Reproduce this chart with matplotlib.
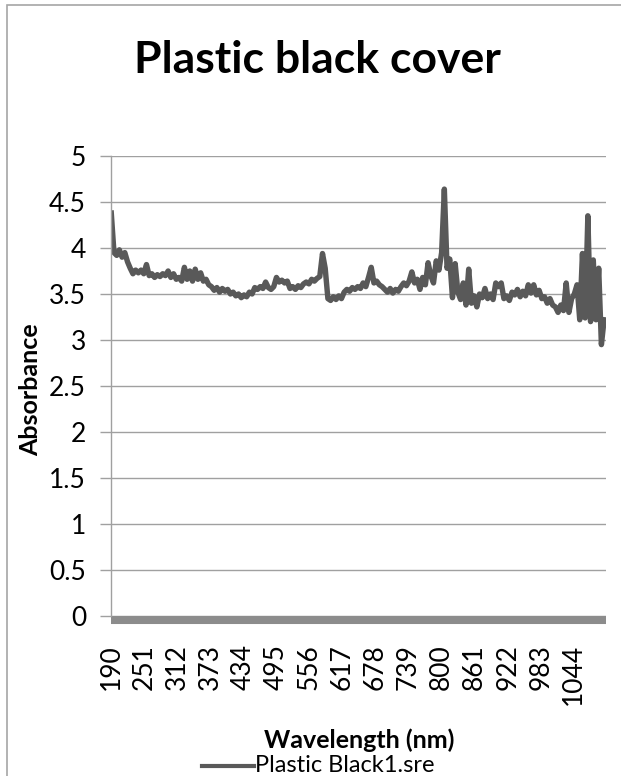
import numpy as np
import matplotlib
matplotlib.use("Agg")
import matplotlib.pyplot as plt
import matplotlib.transforms as mtransforms
from matplotlib.patches import Rectangle
from matplotlib.lines import Line2D

plt.rcParams['font.family'] = ['Lato', 'DejaVu Sans']

# Absorbance spectrum sampled every 5 nm
wavelength = np.arange(190, 1101, 5)
absorbance = [
    4.38, 3.95, 3.92, 3.98, 3.90, 3.95, 3.85, 3.78, 3.72, 3.76,
    3.73, 3.76, 3.72, 3.82, 3.70, 3.72, 3.68, 3.71, 3.69, 3.72,
    3.70, 3.75, 3.68, 3.72, 3.66, 3.68, 3.64, 3.79, 3.66, 3.75,
    3.64, 3.77, 3.66, 3.73, 3.64, 3.66, 3.60, 3.58, 3.54, 3.57,
    3.52, 3.56, 3.53, 3.55, 3.50, 3.52, 3.48, 3.50, 3.46, 3.49,
    3.47, 3.52, 3.50, 3.57, 3.55, 3.58, 3.56, 3.63, 3.57, 3.55,
    3.58, 3.68, 3.63, 3.65, 3.62, 3.64, 3.56, 3.58, 3.55, 3.59,
    3.57, 3.61, 3.63, 3.61, 3.66, 3.64, 3.67, 3.69, 3.94, 3.78,
    3.45, 3.43, 3.47, 3.44, 3.48, 3.45, 3.52, 3.55, 3.53, 3.57,
    3.55, 3.58, 3.56, 3.62, 3.58, 3.68, 3.79, 3.62, 3.64, 3.60,
    3.58, 3.55, 3.52, 3.56, 3.51, 3.55, 3.53, 3.58, 3.62, 3.59,
    3.64, 3.74, 3.62, 3.66, 3.55, 3.68, 3.60, 3.84, 3.70, 3.62,
    3.86, 3.76, 3.95, 4.64, 3.78, 3.88, 3.46, 3.83, 3.52, 3.44,
    3.62, 3.38, 3.77, 3.40, 3.48, 3.36, 3.50, 3.46, 3.56, 3.45,
    3.50, 3.44, 3.62, 3.58, 3.62, 3.45, 3.48, 3.43, 3.52, 3.49,
    3.55, 3.47, 3.53, 3.48, 3.60, 3.51, 3.60, 3.49, 3.54, 3.45,
    3.47, 3.40, 3.45, 3.38, 3.36, 3.30, 3.38, 3.32, 3.62, 3.30,
    3.45, 3.50, 3.60, 3.22, 3.94, 3.24, 4.35, 3.20, 3.87, 3.22,
    3.78, 2.95, 3.22,
]
tick_labels = [190, 251, 312, 373, 434, 495, 556, 617, 678, 739,
               800, 861, 922, 983, 1044]
y_ticks = [0, 0.5, 1, 1.5, 2, 2.5, 3, 3.5, 4, 4.5, 5]
series_name = "Plastic Black1.sre"

W, H = 621, 776
fig = plt.figure(figsize=(W / 100, H / 100), dpi=100)

# outer chart frame (open to the right and bottom)
fig.add_artist(Rectangle((7 / W, -0.1), 1.2, (H - 5) / H + 0.1,
                         transform=fig.transFigure, fill=False,
                         edgecolor='#a6a6a6', linewidth=1.2))

ax = fig.add_axes([111 / W, (H - 616) / H, (606 - 111) / W, 460 / H])
ax.plot(wavelength, absorbance, color='#595959', linewidth=3.9,
        solid_joinstyle='round')

ax.set_xlim(189.5, 1103.5)
ax.set_ylim(0, 5)
ax.set_yticks(y_ticks)
ax.set_yticklabels([f"{v:g}" for v in y_ticks], fontsize=19)
ax.yaxis.grid(True, color='#a0a0a0', linewidth=1.0)
ax.set_axisbelow(True)
ax.tick_params(axis='y', length=8, width=1, color='#a0a0a0', pad=10)

ax.set_xticks(tick_labels)
ax.set_xticklabels([str(t) for t in tick_labels], rotation=90, fontsize=19)
ax.tick_params(axis='x', length=0, pad=20)

for side in ('top', 'right', 'bottom'):
    ax.spines[side].set_visible(False)
ax.spines['left'].set_color('#a0a0a0')
ax.spines['left'].set_linewidth(1.0)

# heavy horizontal axis line along zero
shifted = mtransforms.offset_copy(ax.transAxes, fig=fig, x=0, y=-4, units='dots')
ax.add_line(Line2D([0, 1], [0, 0], transform=shifted, color='#8c8c8c',
                   linewidth=5.8, solid_capstyle='butt', clip_on=False))

fig.text(317 / W, 1 - 60 / H, "Plastic black cover", ha='center', va='center',
         fontsize=32, fontweight='bold')
fig.text(31 / W, 1 - 390 / H, "Absorbance", ha='center', va='center',
         rotation=90, fontsize=18, fontweight='bold')
fig.text(359 / W, 1 - 740 / H, "Wavelength (nm)", ha='center', va='center',
         fontsize=18, fontweight='bold')

# legend entry below the axis title
fig.add_artist(Line2D([202 / W, 254 / W], [1 - 766 / H, 1 - 766 / H],
                      transform=fig.transFigure, color='#595959', linewidth=3.0))
fig.text(255 / W, 1 - 766 / H, series_name, ha='left', va='center', fontsize=17)

fig.savefig("out.png", dpi=100)
